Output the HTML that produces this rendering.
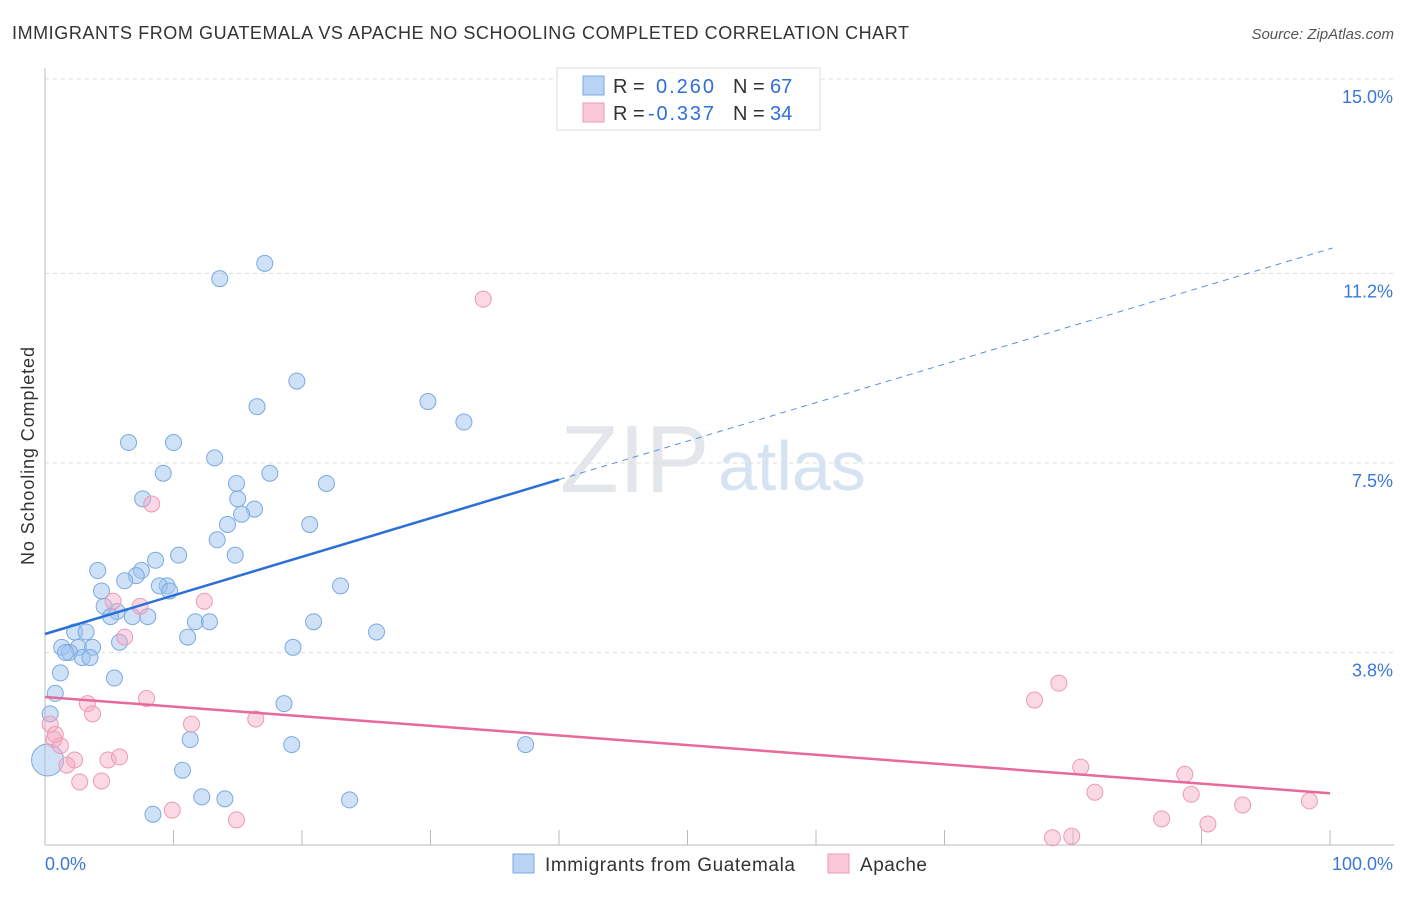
<!DOCTYPE html>
<html><head><meta charset="utf-8"><style>
body{margin:0;background:#fff;font-family:"Liberation Sans",sans-serif;}
svg text{font-family:"Liberation Sans",sans-serif;}
</style></head><body>
<svg id="chart" width="1406" height="892">
<text x="12" y="39" font-size="18" textLength="897" fill="#333">IMMIGRANTS FROM GUATEMALA VS APACHE NO SCHOOLING COMPLETED CORRELATION CHART</text>
<text x="1394" y="39" font-size="15" fill="#555" font-style="italic" text-anchor="end">Source: ZipAtlas.com</text>
<text x="34" y="456" font-size="18" textLength="218" fill="#333" transform="rotate(-90 34 456)" text-anchor="middle">No Schooling Completed</text>
<text x="560" y="492" font-size="96" fill="#e3e6ea" font-family="Liberation Serif">ZIP</text>
<text x="718" y="490" font-size="70" fill="#d5e3f3">atlas</text>
<g id="grid"></g><g id="marks"></g>
<g>
<rect x="557" y="68" width="263" height="62" fill="#fff" stroke="#ddd"/>
<rect x="583" y="76" width="21" height="19" fill="#b9d3f5" stroke="#7aaae0"/>
<rect x="583" y="103" width="21" height="19" fill="#fac8d8" stroke="#ee99b5"/>
<text x="613" y="93" font-size="20" fill="#333">R = </text><text x="656" y="93" font-size="20" textLength="58" fill="#2f6fd6">0.260</text>
<text x="733" y="93" font-size="20" fill="#333">N = </text><text x="770" y="93" font-size="20" fill="#2f6fd6">67</text>
<text x="613" y="120" font-size="20" fill="#333">R = </text><text x="648" y="120" font-size="20" textLength="66" fill="#2f6fd6">-0.337</text>
<text x="733" y="120" font-size="20" fill="#333">N = </text><text x="770" y="120" font-size="20" fill="#2f6fd6">34</text>
</g>
<g>
<rect x="513" y="854" width="21" height="19" fill="#b9d3f5" stroke="#7aaae0"/>
<text x="545" y="871" font-size="19" textLength="250" fill="#333">Immigrants from Guatemala</text>
<rect x="828" y="854" width="21" height="19" fill="#fac8d8" stroke="#ee99b5"/>
<text x="860" y="871" font-size="19" textLength="67" fill="#333">Apache</text>
</g>
</svg>
<script>
const yTicks=[15.0,11.2,7.5,3.8];
const yTickLabels=["15.0%","11.2%","7.5%","3.8%"];
const xTickLabels=["0.0%","100.0%"];
const blueX=[17.1,13.6,19.6,16.5,29.8,32.6,6.5,10.0,13.2,9.2,17.5,14.9,21.9,7.6,15.0,16.3,15.3,14.2,20.6,13.4,14.8,10.4,8.6,4.1,7.5,7.1,6.2,9.5,8.9,9.7,4.4,23.0,4.6,5.6,5.1,6.8,8.0,11.7,12.8,20.9,25.8,2.3,3.2,11.1,5.8,1.3,2.6,3.7,1.9,1.6,2.9,3.5,19.3,1.2,5.4,0.8,18.6,0.4,11.3,19.2,37.4,10.7,12.2,14.0,23.7,8.4,0.2];
const blueY=[11.4,11.1,9.1,8.6,8.7,8.3,7.9,7.9,7.6,7.3,7.3,7.1,7.1,6.8,6.8,6.6,6.5,6.3,6.3,6.0,5.7,5.7,5.6,5.4,5.4,5.3,5.2,5.1,5.1,5.0,5.0,5.1,4.7,4.6,4.5,4.5,4.5,4.4,4.4,4.4,4.2,4.2,4.2,4.1,4.0,3.9,3.9,3.9,3.8,3.8,3.7,3.7,3.9,3.4,3.3,3.0,2.8,2.6,2.1,2.0,2.0,1.5,0.98,0.94,0.92,0.64,1.7];
const pinkX=[34.1,8.3,12.4,5.3,7.4,6.2,7.9,3.3,3.7,11.4,16.4,0.4,0.7,1.2,0.8,2.3,4.9,5.8,1.7,2.7,4.4,9.9,14.9,77.0,78.9,80.6,81.7,88.7,89.2,93.2,98.4,86.9,90.5,78.4,79.9];
const pinkY=[10.7,6.7,4.8,4.8,4.7,4.1,2.9,2.8,2.6,2.4,2.5,2.4,2.1,1.98,2.2,1.7,1.7,1.76,1.6,1.27,1.29,0.72,0.53,2.87,3.2,1.56,1.07,1.42,1.03,0.82,0.9,0.55,0.45,0.18,0.21];
const blueTrend=[4.16,11.7];
const pinkTrend=[2.93,1.05];
const ns="http://www.w3.org/2000/svg";
const X=v=>45+v*12.85, Y=v=>847-v*51.2;
const grid=document.getElementById('grid'), marks=document.getElementById('marks');
function mk(t,a,p){const e=document.createElementNS(ns,t);for(const k in a)e.setAttribute(k,a[k]);p.appendChild(e);return e;}
yTicks.forEach((t,i)=>{
 const l=mk('line',{x1:45,x2:1394,y1:Y(t),y2:Y(t),stroke:'#ddd','stroke-dasharray':'4,4'},grid);
 
 
 const tx=mk('text',{x:1393,y:Y(t)+24,'font-size':18,fill:'#3a78d8','text-anchor':'end'},grid);
 tx.textContent=yTickLabels[i];
 
 
});
const ax=mk('line',{x1:45,x2:45,y1:68,y2:845,stroke:'#bbb'},grid);


const bx=mk('line',{x1:45,x2:1394,y1:845,y2:845,stroke:'#bbb'},grid);


for(let i=0;i<=10;i++){const t=mk('line',{x1:X(i*10),x2:X(i*10),y1:830,y2:845,stroke:'#bbb'},grid);
 
 }
[[0,45,'start'],[100,1393,'end']].forEach((d,i)=>{const t=mk('text',{x:d[1],y:870,'font-size':18,fill:'#3a78d8','text-anchor':d[2]},grid);t.textContent=xTickLabels[i];
 
 });
blueX.forEach((x,i)=>{const c=mk('circle',{cx:X(x),cy:Y(blueY[i]),r:i==blueX.length-1?16:8,fill:'rgba(160,196,240,0.5)',stroke:'#7aaae0','stroke-width':1},marks);
 
 });
pinkX.forEach((x,i)=>{const c=mk('circle',{cx:X(x),cy:Y(pinkY[i]),r:8,fill:'rgba(245,170,195,0.45)',stroke:'#ee99b5','stroke-width':1},marks);
 
 });
const bs=blueTrend[0]+(blueTrend[1]-blueTrend[0])*0.4;
let l=mk('line',{x1:X(0),y1:Y(blueTrend[0]),x2:X(40),y2:Y(bs),stroke:'#2a70d8','stroke-width':2.5},marks);


l=mk('line',{x1:X(40),y1:Y(bs),x2:X(100.2),y2:Y(blueTrend[1]),stroke:'#5a90e0','stroke-width':1,'stroke-dasharray':'6,5'},marks);


l=mk('line',{x1:X(0),y1:Y(pinkTrend[0]),x2:X(100),y2:Y(pinkTrend[1]),stroke:'#e8699a','stroke-width':2.5},marks);


</script>
</body></html>
